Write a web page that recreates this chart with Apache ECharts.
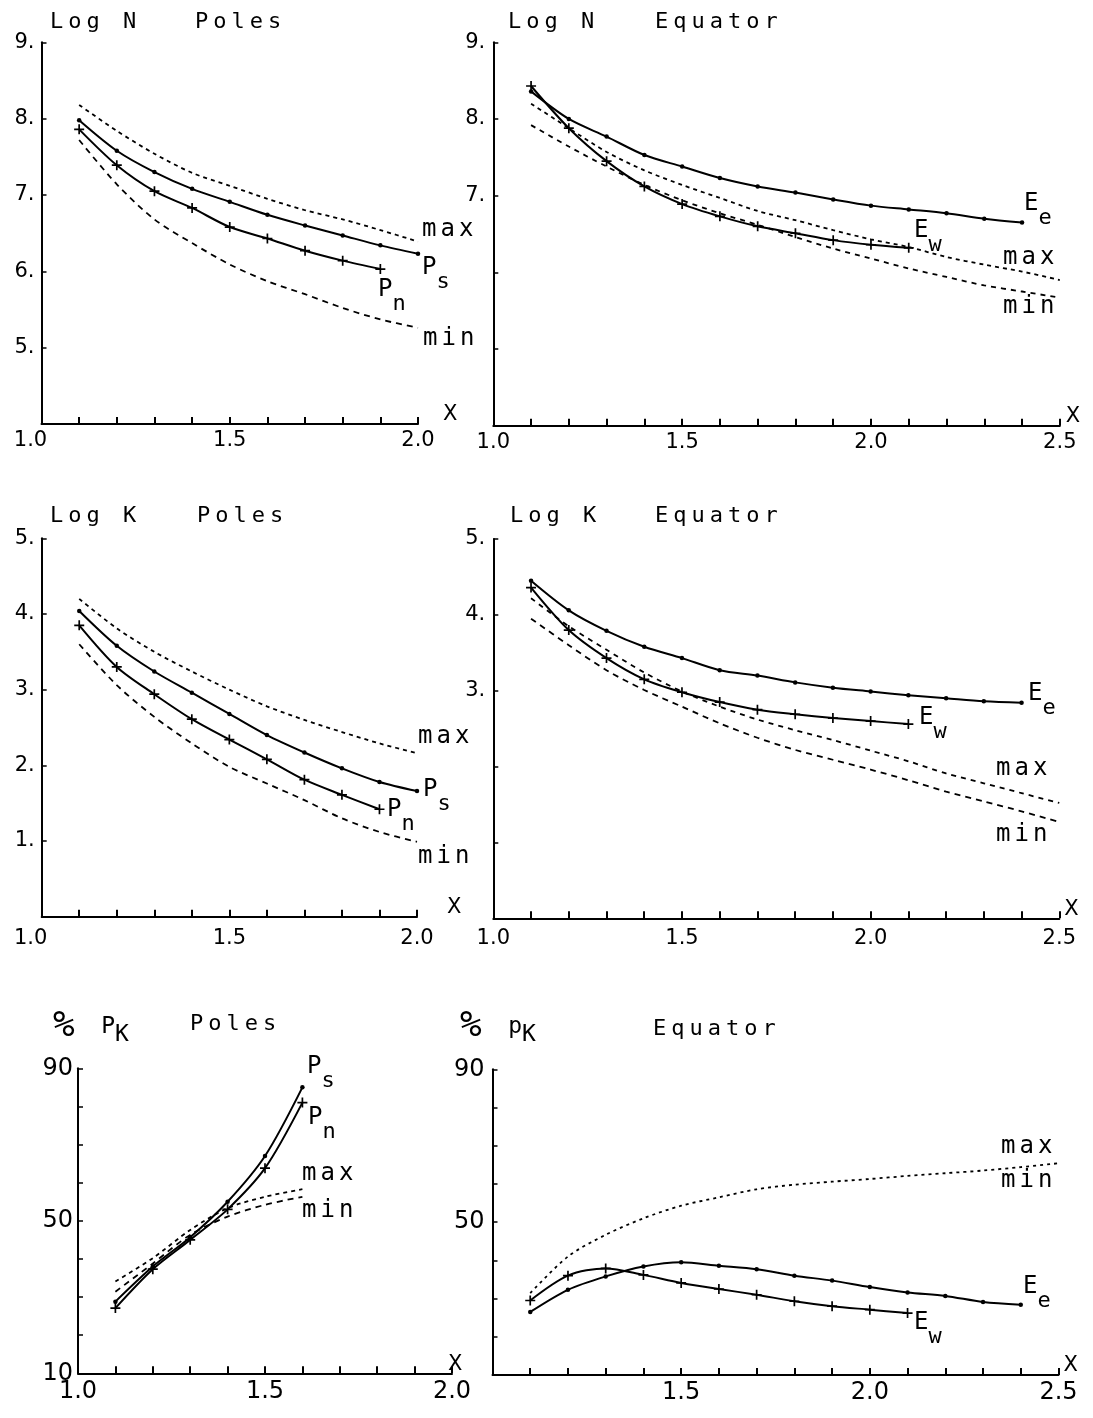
<!DOCTYPE html>
<html><head><meta charset="utf-8">
<script src="https://cdn.jsdelivr.net/npm/echarts/dist/echarts.min.js"></script>
<style>html,body{margin:0;padding:0;background:#fff}#c{width:1093px;height:1418px}</style>
</head><body><div id="c"></div>
<script>
// ---------- data ----------
const xPol10 = [1.1, 1.2, 1.3, 1.4, 1.5, 1.6, 1.7, 1.8, 1.9, 2.0];
const xPol9  = [1.1, 1.2, 1.3, 1.4, 1.5, 1.6, 1.7, 1.8, 1.9];
const xPol6  = [1.1, 1.2, 1.3, 1.4, 1.5, 1.6];
const xEq14  = [1.1, 1.2, 1.3, 1.4, 1.5, 1.6, 1.7, 1.8, 1.9, 2.0, 2.1, 2.2, 2.3, 2.4];
const xEq11  = [1.1, 1.2, 1.3, 1.4, 1.5, 1.6, 1.7, 1.8, 1.9, 2.0, 2.1];
const xEq15  = [1.1, 1.2, 1.3, 1.4, 1.5, 1.6, 1.7, 1.8, 1.9, 2.0, 2.1, 2.2, 2.3, 2.4, 2.5];

// Log N, Poles
const logN_Ps   = [7.98, 7.58, 7.30, 7.08, 6.91, 6.74, 6.60, 6.47, 6.34, 6.23];
const logN_Pn   = [7.86, 7.39, 7.05, 6.83, 6.58, 6.43, 6.27, 6.14, 6.03];
const logN_Pmax = [8.18, 7.84, 7.54, 7.29, 7.12, 6.95, 6.80, 6.68, 6.54, 6.39];
const logN_Pmin = [7.72, 7.14, 6.68, 6.37, 6.09, 5.87, 5.70, 5.52, 5.37, 5.26];
// Log N, Equator
const logN_Ee   = [8.36, 8.00, 7.77, 7.53, 7.38, 7.23, 7.12, 7.04, 6.95, 6.87, 6.82, 6.77, 6.70, 6.65];
const logN_Ew   = [8.43, 7.88, 7.45, 7.12, 6.89, 6.73, 6.60, 6.51, 6.42, 6.36, 6.32];
const logN_Emax = [8.20, 7.88, 7.57, 7.33, 7.14, 6.97, 6.80, 6.68, 6.55, 6.43, 6.33, 6.20, 6.10, 6.01, 5.90];
const logN_Emin = [7.92, 7.64, 7.38, 7.14, 6.94, 6.77, 6.62, 6.46, 6.31, 6.18, 6.05, 5.94, 5.83, 5.75, 5.67];
// Log K, Poles
const logK_Ps   = [4.04, 3.58, 3.24, 2.96, 2.68, 2.40, 2.17, 1.96, 1.78, 1.66];
const logK_Pn   = [3.85, 3.30, 2.94, 2.61, 2.34, 2.08, 1.81, 1.61, 1.42];
const logK_Pmax = [4.20, 3.81, 3.50, 3.24, 3.00, 2.78, 2.60, 2.44, 2.29, 2.16];
const logK_Pmin = [3.60, 3.06, 2.64, 2.29, 1.98, 1.76, 1.54, 1.30, 1.12, 0.99];
// Log K, Equator
const logK_Ee   = [4.45, 4.06, 3.79, 3.58, 3.43, 3.27, 3.20, 3.11, 3.04, 2.99, 2.94, 2.90, 2.86, 2.84];
const logK_Ew   = [4.36, 3.80, 3.43, 3.15, 2.98, 2.85, 2.75, 2.69, 2.64, 2.60, 2.56];
const logK_Emax = [4.22, 3.85, 3.54, 3.24, 2.99, 2.79, 2.62, 2.48, 2.35, 2.21, 2.07, 1.91, 1.78, 1.65, 1.52];
const logK_Emin = [3.95, 3.60, 3.27, 3.01, 2.79, 2.57, 2.38, 2.22, 2.09, 1.96, 1.82, 1.67, 1.54, 1.41, 1.27];
// % pK, Poles
const pK_Ps   = [28.8, 38.0, 45.7, 55.0, 67.0, 85.0];
const pK_Pn   = [27.1, 37.3, 45.0, 53.0, 63.8, 81.0];
const pK_Pmax = [34.1, 40.2, 47.6, 53.3, 56.3, 58.3];
const pK_Pmin = [31.4, 38.8, 46.3, 51.1, 54.2, 56.3];
// % pK, Equator
const pK_Ee     = [26.5, 32.3, 35.8, 38.4, 39.5, 38.6, 37.7, 36.0, 34.7, 33.0, 31.6, 30.7, 29.1, 28.4];
const pK_Ew     = [29.5, 36.0, 37.9, 36.2, 34.1, 32.5, 31.0, 29.3, 28.0, 27.1, 26.2];
const pK_Emaxmin = [31.4, 41.0, 46.7, 51.0, 54.3, 56.5, 58.6, 59.8, 60.6, 61.3, 62.1, 62.8, 63.5, 64.4, 65.4];

// tick label lists
const yTicksLogNPoles = [5, 6, 7, 8, 9];
const yTicksLogNEq    = [7, 8, 9];
const yTicksLogKPoles = [1, 2, 3, 4, 5];
const yTicksLogKEq    = [3, 4, 5];
const yTicksPkPoles   = [10, 50, 90];
const yTicksPkEq      = [50, 90];
const xTicksPoles     = ['1.0', '1.5', '2.0'];
const xTicksEq        = ['1.0', '1.5', '2.0', '2.5'];
const xTicksPkEq      = ['1.5', '2.0', '2.5'];

// ---------- letter spacing for the plotter-like lettering ----------
const SPACING = {'22': '5px', '24': '4px'};
(function () {
  const proto = CanvasRenderingContext2D.prototype;
  const orig = proto.fillText;
  proto.fillText = function () {
    if ('letterSpacing' in this) {
      const m = /(\d+(?:\.\d+)?)px\s+"?DejaVu Sans Mono/.exec(this.font);
      this.letterSpacing = m ? (SPACING[String(Math.round(+m[1]))] || '0px') : '0px';
    }
    return orig.apply(this, arguments);
  };
})();

// ---------- helpers ----------
const MONO = 'DejaVu Sans Mono';
const SANS = 'DejaVu Sans';
const K = '#000';
const pts = (xs, ys) => ys.map((y, i) => [xs[i], y]);
const PLUS = 'path://M-1,-0.17 L-0.17,-0.17 L-0.17,-1 L0.17,-1 L0.17,-0.17 L1,-0.17 L1,0.17 L0.17,0.17 L0.17,1 L-0.17,1 L-0.17,0.17 L-1,0.17 Z';

function dotLine(name, g, data) {
  return {name, type: 'line', xAxisIndex: g, yAxisIndex: g, data, smooth: 0.3,
    symbol: 'circle', symbolSize: 4.5, showSymbol: true, silent: true, z: 3,
    lineStyle: {color: K, width: 2}, itemStyle: {color: K}};
}
function plusLine(name, g, data) {
  return {name, type: 'line', xAxisIndex: g, yAxisIndex: g, data, smooth: 0.3,
    symbol: PLUS, symbolSize: 10, showSymbol: true, silent: true, z: 3,
    lineStyle: {color: K, width: 2}, itemStyle: {color: K}};
}
function dashLine(name, g, data, dash) {
  return {name, type: 'line', xAxisIndex: g, yAxisIndex: g, data, smooth: 0.3,
    symbol: 'none', showSymbol: false, silent: true, z: 2,
    lineStyle: {color: K, width: 1.8, type: dash}};
}

const axisLine = {show: true, onZero: false, lineStyle: {color: K, width: 2}};
function xAx(g, max, nameGap, fontSize, margin, shown, shift) {
  return {type: 'value', gridIndex: g, min: 1.0, max, interval: 0.1, position: 'bottom',
    name: 'X', nameLocation: 'end', nameGap, nameMoveOverlap: false,
    nameTextStyle: {fontFamily: SANS, fontSize: 21, color: K, verticalAlign: 'bottom', align: 'left', lineHeight: 18},
    axisLine,
    axisTick: {show: true, inside: true, length: 7, lineStyle: {color: K, width: 2}},
    splitLine: {show: false},
    axisLabel: {show: true, margin, fontFamily: SANS, fontSize, color: K, showMinLabel: true, showMaxLabel: true,
      formatter: v => {
        const s = (Math.round(v * 10) / 10).toFixed(1);
        if (shown.indexOf(s) < 0) return '';
        return (shift && s === '1.0') ? '{sh|1.0}' : s;
      },
      rich: {sh: {fontFamily: SANS, fontSize, color: K, padding: [0, 22, 0, 0]}}}};
}
function yAx(g, min, max, interval, shown, suffix, fontSize, margin) {
  return {type: 'value', gridIndex: g, min, max, interval,
    axisLine,
    axisTick: {show: true, inside: true, length: 5, lineStyle: {color: K, width: 1.5}},
    splitLine: {show: false},
    axisLabel: {show: true, margin, fontFamily: SANS, fontSize, color: K,
      formatter: v => shown.indexOf(v) >= 0 ? (v + suffix) : ''}};
}

const titleStyle = {fontFamily: MONO, fontSize: 22, fontWeight: 'normal', color: K};
const pkRich = {
  pc: {fontFamily: MONO, fontSize: 36, lineHeight: 40, color: K, verticalAlign: 'middle'},
  p:  {fontFamily: MONO, fontSize: 23, lineHeight: 22, color: K, verticalAlign: 'middle'},
  k:  {fontFamily: MONO, fontSize: 23, lineHeight: 14, color: K, verticalAlign: 'bottom'}
};
function ttl(text, left, top, rich) {
  const ts = Object.assign({}, titleStyle);
  if (rich) ts.rich = rich;
  return {text, left, top, padding: 0, itemGap: 0, textStyle: ts};
}

function word(x, y, t) {
  return {type: 'text', x, y, silent: true,
    style: {text: t, fontFamily: MONO, fontSize: 24, fill: K, align: 'left', verticalAlign: 'middle'}};
}
function sub(x, yTop, a, b) {
  return {type: 'text', x, y: yTop, silent: true,
    style: {text: '{m|' + a + '}{s|' + b + '}', fontFamily: MONO, fontSize: 24, fill: K,
      align: 'left', verticalAlign: 'top',
      rich: {
        m: {fontFamily: MONO, fontSize: 24, lineHeight: 24, fill: K, color: K, verticalAlign: 'top'},
        s: {fontFamily: MONO, fontSize: 22, lineHeight: 22, fill: K, color: K, verticalAlign: 'top', padding: [15, 0, 0, 0]}
      }}};
}

const gridBase = {containLabel: false, outerBoundsMode: 'none', show: false};
const option = {
  animation: false,
  backgroundColor: '#fff',
  title: [
    ttl('Log N', 50, 11), ttl('Poles', 195, 11),
    ttl('Log N', 508, 11), ttl('Equator', 655, 11),
    ttl('Log K', 50, 505), ttl('Poles', 197, 505),
    ttl('Log K', 510, 505), ttl('Equator', 655, 505),
    ttl('{pc|%}  {p|P}{k|K}', 53, 1007, pkRich), ttl('Poles', 190, 1013),
    ttl('{pc|%}  {p|p}{k|K}', 460, 1007, pkRich), ttl('Equator', 653, 1018)
  ],
  grid: [
    Object.assign({left: 41.5, top: 42.3, width: 376.5, height: 381.7}, gridBase),
    Object.assign({left: 493.3, top: 42.3, width: 566.5, height: 383.4}, gridBase),
    Object.assign({left: 41.7, top: 538.3, width: 375.3, height: 378.4}, gridBase),
    Object.assign({left: 493.3, top: 539, width: 566, height: 379.3}, gridBase),
    Object.assign({left: 78, top: 1068.3, width: 374, height: 305}, gridBase),
    Object.assign({left: 492.5, top: 1069.3, width: 566, height: 305.7}, gridBase)
  ],
  xAxis: [
    xAx(0, 2.0, 25, 21, 6, xTicksPoles, true),
    xAx(1, 2.5, 6, 21, 6, xTicksEq, false),
    xAx(2, 2.0, 30, 21, 11, xTicksPoles, true),
    xAx(3, 2.5, 5, 21, 10, xTicksEq, false),
    xAx(4, 2.0, -4, 24, 6, xTicksPoles, false),
    xAx(5, 2.5, 5, 24, 6, xTicksPkEq, false)
  ],
  yAxis: [
    yAx(0, 4, 9, 1, yTicksLogNPoles, '.', 21, 7),
    yAx(1, 4, 9, 1, yTicksLogNEq, '.', 21, 8),
    yAx(2, 0, 5, 1, yTicksLogKPoles, '.', 21, 7),
    yAx(3, 0, 5, 1, yTicksLogKEq, '.', 21, 8),
    yAx(4, 10, 90, 10, yTicksPkPoles, '', 24, 5),
    yAx(5, 10, 90, 10, yTicksPkEq, '', 24, 8)
  ],
  series: [
    dashLine('max', 0, pts(xPol10, logN_Pmax), [4, 4]),
    dashLine('min', 0, pts(xPol10, logN_Pmin), [6, 5]),
    dotLine('Ps', 0, pts(xPol10, logN_Ps)),
    plusLine('Pn', 0, pts(xPol9, logN_Pn)),

    dashLine('max', 1, pts(xEq15, logN_Emax), [4, 4]),
    dashLine('min', 1, pts(xEq15, logN_Emin), [5, 5]),
    dotLine('Ee', 1, pts(xEq14, logN_Ee)),
    plusLine('Ew', 1, pts(xEq11, logN_Ew)),

    dashLine('max', 2, pts(xPol10, logK_Pmax), [4, 4]),
    dashLine('min', 2, pts(xPol10, logK_Pmin), [6, 5]),
    dotLine('Ps', 2, pts(xPol10, logK_Ps)),
    plusLine('Pn', 2, pts(xPol9, logK_Pn)),

    dashLine('max', 3, pts(xEq15, logK_Emax), [5, 5]),
    dashLine('min', 3, pts(xEq15, logK_Emin), [6, 5]),
    dotLine('Ee', 3, pts(xEq14, logK_Ee)),
    plusLine('Ew', 3, pts(xEq11, logK_Ew)),

    dashLine('max', 4, pts(xPol6, pK_Pmax), [4, 4]),
    dashLine('min', 4, pts(xPol6, pK_Pmin), [6, 5]),
    dotLine('Ps', 4, pts(xPol6, pK_Ps)),
    plusLine('Pn', 4, pts(xPol6, pK_Pn)),

    dashLine('max/min', 5, pts(xEq15, pK_Emaxmin), [3, 4]),
    dotLine('Ee', 5, pts(xEq14, pK_Ee)),
    plusLine('Ew', 5, pts(xEq11, pK_Ew))
  ],
  graphic: [
    word(422, 230, 'max'), sub(422, 256, 'P', 's'), sub(378, 278, 'P', 'n'), word(423, 339, 'min'),
    sub(1024, 192, 'E', 'e'), sub(914, 219, 'E', 'w'), word(1003, 258, 'max'), word(1003, 307, 'min'),
    word(418, 737, 'max'), sub(423, 778, 'P', 's'), sub(387, 798, 'P', 'n'), word(418, 857, 'min'),
    sub(1028, 682, 'E', 'e'), sub(919, 706, 'E', 'w'), word(996, 769, 'max'), word(996, 835, 'min'),
    sub(307, 1055, 'P', 's'), sub(308, 1106, 'P', 'n'), word(302, 1174, 'max'), word(302, 1211, 'min'),
    word(1001, 1147, 'max'), word(1001, 1181, 'min'), sub(1023, 1275, 'E', 'e'), sub(914, 1311, 'E', 'w')
  ]
};
const chart = echarts.init(document.getElementById('c'), null, {renderer: 'canvas'});
chart.setOption(option);
</script>
</body></html>
